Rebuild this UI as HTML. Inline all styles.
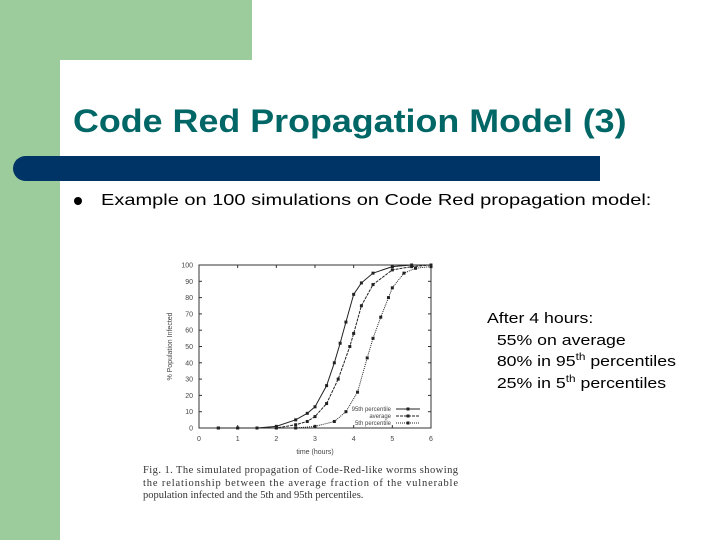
<!DOCTYPE html>
<html><head><meta charset="utf-8"><style>
body{margin:0;width:720px;height:540px;overflow:hidden;background:#fff;position:relative;font-family:"Liberation Sans",sans-serif}
.abs{position:absolute}
</style></head><body>
<div class="abs" style="left:0;top:0;width:252px;height:60px;background:#9ccc9c"></div>
<div class="abs" style="left:0;top:0;width:60px;height:540px;background:#9ccc9c"></div>
<div class="abs" style="left:60px;top:60px;width:660px;height:480px;background:#fff;border-top-left-radius:26px"></div>
<div class="abs" style="left:73px;top:103px;font-size:32px;font-weight:bold;color:#006666;white-space:nowrap;transform:scaleX(1.12);transform-origin:0 0">Code Red Propagation Model (3)</div>
<div class="abs" style="left:13px;top:156px;width:587px;height:25px;background:#003366;border-radius:13px 0 0 13px"></div>
<div class="abs" style="left:74px;top:197px;width:8px;height:8px;border-radius:50%;background:#000"></div>
<div class="abs" style="left:101px;top:192px;font-size:16px;color:#000;white-space:nowrap;transform:scaleX(1.25);transform-origin:0 0">Example on 100 simulations on Code Red propagation model:</div>
<div class="abs" style="left:487px;top:308px;font-size:15px;line-height:21.7px;color:#000;white-space:nowrap;transform:scaleX(1.18);transform-origin:0 0">After 4 hours:<br>&nbsp;&nbsp;55% on average<br>&nbsp;&nbsp;80% in 95<sup style="font-size:10px;line-height:0">th</sup> percentiles<br>&nbsp;&nbsp;25% in 5<sup style="font-size:10px;line-height:0">th</sup> percentiles</div>
<svg class="abs" style="left:0;top:0" width="720" height="540" font-family="Liberation Sans, sans-serif">
<g id="g"></g>
<text x="143" y="473" font-family="Liberation Serif, serif" font-size="10.5" fill="#333" textLength="315">Fig. 1.   The simulated propagation of Code-Red-like worms showing</text>
<text x="143" y="486" font-family="Liberation Serif, serif" font-size="10.5" fill="#333" textLength="315">the relationship between the average fraction of the vulnerable</text>
<text x="143" y="498" font-family="Liberation Serif, serif" font-size="10.5" fill="#333">population infected and the 5th and 95th percentiles.</text>
</svg>
<script>
const xTicks=[0,1,2,3,4,5,6];
const yTicks=[0,10,20,30,40,50,60,70,80,90,100];
const t95=[0.5,1,1.5,2,2.5,2.8,3,3.3,3.5,3.65,3.8,4,4.2,4.5,5,5.5,6];
const v95=[0,0,0,1,5,9,13,26,40,52,65,82,89,95,99,100,100];
const tAvg=[0.5,1,1.5,2,2.5,2.8,3,3.3,3.6,3.9,4.0,4.2,4.5,5,5.5,6];
const vAvg=[0,0,0,0,2,4,7,15,30,50,58,75,88,97,99,100];
const t5=[1.5,2,2.5,3,3.5,3.8,4.1,4.35,4.5,4.7,4.9,5,5.3,5.6,6];
const v5=[0,0,0,1,4,10,22,43,55,68,80,86,95,98,99];
const X0=199,X1=431,Y0=428,Y1=265;
const sx=v=>X0+(v-0)/6*(X1-X0), sy=v=>Y0-(v/100)*(Y0-Y1);
const g=document.getElementById('g');const NS='http://www.w3.org/2000/svg';
function el(t,a){const e=document.createElementNS(NS,t);for(const k in a)e.setAttribute(k,a[k]);g.appendChild(e);return e;}
const fr=el('rect',{x:X0,y:Y1,width:X1-X0,height:Y0-Y1,fill:'none',stroke:'#333','stroke-width':1});


xTicks.forEach(v=>{const t=el('text',{x:sx(v),y:Y0+13,'font-size':7,'text-anchor':'middle',fill:'#444'});t.textContent=v;


el('line',{x1:sx(v),x2:sx(v),y1:Y0,y2:Y0-3,stroke:'#333'});el('line',{x1:sx(v),x2:sx(v),y1:Y1,y2:Y1+3,stroke:'#333'});});
yTicks.forEach(v=>{const t=el('text',{x:X0-6,y:sy(v)+2.5,'font-size':7,'text-anchor':'end',fill:'#444'});t.textContent=v;


el('line',{x1:X0,x2:X0+3,y1:sy(v),y2:sy(v),stroke:'#333'});el('line',{x1:X1,x2:X1-3,y1:sy(v),y2:sy(v),stroke:'#333'});});
const xt=el('text',{x:(X0+X1)/2,y:Y0+26,'font-size':7,'text-anchor':'middle',fill:'#444'});xt.textContent='time (hours)';


const yt=el('text',{x:0,y:0,'font-size':7,'text-anchor':'middle',fill:'#444',transform:`translate(172,${(Y0+Y1)/2}) rotate(-90)`});yt.textContent='% Population Infected';


function series(ts,vs,name,dash){
 const p=el('polyline',{points:ts.map((t,i)=>sx(t)+','+sy(vs[i])).join(' '),fill:'none',stroke:'#222','stroke-width':1,'stroke-dasharray':dash});
 
 
 ts.forEach((t,i)=>{const m=el('rect',{x:sx(t)-1.5,y:sy(vs[i])-1.5,width:3,height:3,fill:'#222'});
 
 });
}
series(t95,v95,'series-95th','');
series(tAvg,vAvg,'series-average','3,1');
series(t5,v5,'series-5th','1,1');
const leg=[['95th percentile',''],['average','3,1'],['5th percentile','1,1']];
leg.forEach((l,i)=>{const y=409+i*7;const t=el('text',{x:391,y:y+2,'font-size':6,'text-anchor':'end',fill:'#444'});t.textContent=l[0];


el('line',{x1:396,x2:420,y1:y,y2:y,stroke:'#222','stroke-dasharray':l[1]});el('rect',{x:406.5,y:y-1.5,width:3,height:3,fill:'#222'});});
</script>
</body></html>
